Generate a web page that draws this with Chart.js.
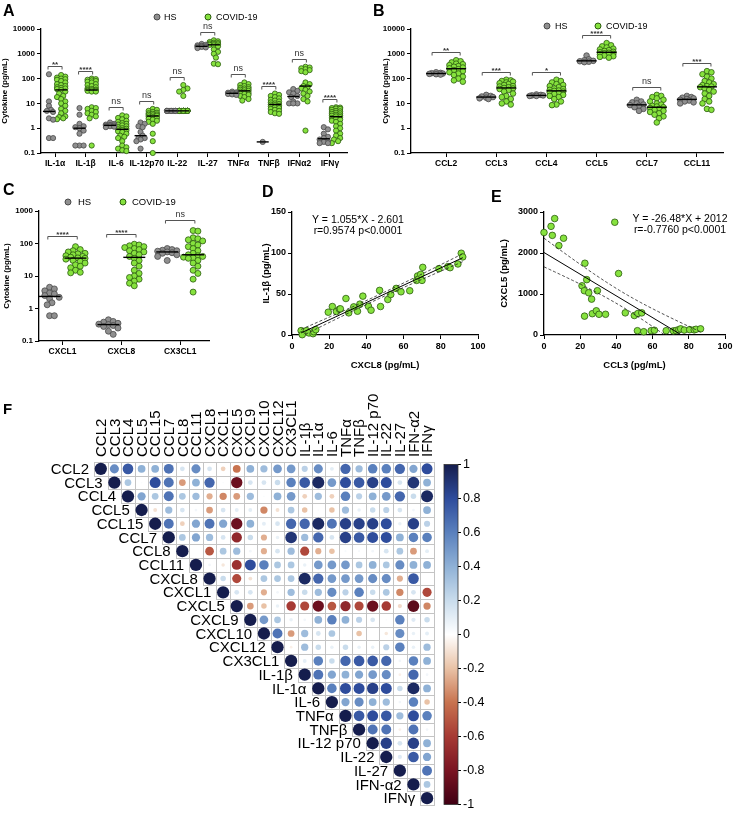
<!DOCTYPE html>
<html><head><meta charset="utf-8">
<script src="https://cdn.jsdelivr.net/npm/chart.js@4/dist/chart.umd.min.js"></script>
<style>
body{margin:0;background:#fff;width:739px;height:814px;position:relative;overflow:hidden;font-family:'Liberation Sans',Arial,sans-serif;color:#000}
canvas{position:absolute}
.t{position:absolute;white-space:nowrap;transform:translateY(-50%);line-height:1}
.dot{position:absolute;width:5px;height:5px;border-radius:50%;transform:translate(-50%,-50%)}
</style></head><body>
<script>
// ---------------- DATA ----------------
// Panel A
const catsA = ['IL-1α','IL-1β','IL-6','IL-12p70','IL-22','IL-27','TNFα','TNFβ','IFNα2','IFNγ'];
const hsA = [
 [150,12,8,5.5,5,4.5,2.5,2.2,0.4,0.4],
 [6.5,3.5,1.5,1.2,1.1,1.0,0.8,0.6,0.2,0.2,0.2],
 [1.7,1.5,1.4,1.35,1.3,1.25,1.2,1.15,1.1],
 [1.7,1.5,1.2,1.1,0.7,0.5,0.4,0.4,0.35,0.3,0.15],
 [5,5,5,5,5,5,5,5,5,5],
 [2500,2300,2200,2100,2000,1950,1900,1800,1700],
 [30,28,27,26,25,24,23,22],
 [0.28],
 [38,32,28,25,20,18,12,10,10,10],
 [1.1,0.9,0.6,0.45,0.4,0.35,0.3,0.28,0.25,0.25]
];
const covA = [
 [140,120,110,100,95,90,80,70,60,55,50,45,42,40,38,35,30,25,20,18,15,12,10,8,6,5,4,3,2.8,2.5,2.3],
 [100,95,90,85,80,75,70,60,55,50,45,40,38,36,35,34,33,32,30,30,7,6.5,6,5,4.5,4,3.5,3,2.5,0.2],
 [3.3,3,2.6,2.3,2,1.8,1.6,1.5,1.4,1.3,1.2,1.1,1.0,0.95,0.9,0.85,0.8,0.75,0.7,0.6,0.5,0.45,0.4,0.3,0.2,0.17,0.15,0.13,0.12],
 [6,5.5,5,4.5,4.2,4,3.8,3.6,3.5,3.3,3.2,3,2.8,2.6,2.4,2.2,2,1.8,1.5,0.6,0.3,0.1],
 [55,40,35,30,20,5,5,5,5,5,5,5,5,5,5,5,5,5,5,5,5,5,5,5,5],
 [3500,3200,3000,2800,2700,2600,2500,2400,2300,2200,2000,1500,1200,1000,700,400,380],
 [70,60,55,50,45,42,40,38,36,34,32,30,28,26,25,24,22,20,18,15,13],
 [25,22,20,18,16,14,13,12,11,10,9.5,9,8.5,8,7.5,7,6.5,6,5.5,5,4.5,4,3.8],
 [300,280,260,240,220,200,180,70,60,50,45,40,35,30,25,20,15,12,0.8],
 [7,6.8,6.5,6.2,6,5.5,5,4.8,4.5,4.2,4,3.8,3.5,3.3,3.2,3,2.8,2.6,2.4,2.2,2,1.8,1.5,1.2,1,0.8,0.6,0.5,0.4,0.35,0.3,0.25]
];
const sigA = ['**','****','ns','ns','ns','ns','ns','****','ns','****'];
const ticksA = [0.1,1,10,100,1000,10000];

// Panel B
const catsB = ['CCL2','CCL3','CCL4','CCL5','CCL7','CCL11'];
const hsB = [
 [180,170,165,160,155,150,145],
 [22,20,19,18,17,16,15],
 [23,22,21,21,20,20],
 [850,600,550,520,500,480,460],
 [14,12,11,10,9,8.5,8,7,6,5],
 [20,18,17,16,15,14,13,12,11,10]
];
const covB = [
 [550,500,450,400,380,350,320,300,280,260,240,220,200,180,160,140,120,100,85,75],
 [90,85,80,75,70,65,60,55,50,48,45,42,40,38,35,30,25,20,18,15,12,10,9],
 [90,80,70,60,55,50,45,40,38,35,33,32,30,28,26,24,22,20,18,15,12,9,8.5],
 [2700,2200,2000,1800,1600,1500,1400,1300,1200,1150,1100,1050,1000,950,900,850,800,750,700],
 [22,20,18,16,14,12,10,9,8,7.5,7,6.5,6,5.5,5,4.5,4,3.5,3,2.5,1.7],
 [200,180,150,120,100,80,70,60,55,50,48,45,40,35,30,25,20,15,12,10,6,5.5]
];
const sigB = ['**','***','*','****','ns','***'];

// Panel C
const catsC = ['CXCL1','CXCL8','CX3CL1'];
const hsC = [
 [4.5,4,3.5,3,2.8,2.5,2.2,2,1.5,1.3,0.6,0.6],
 [0.45,0.4,0.38,0.35,0.33,0.32,0.3,0.28,0.25,0.2,0.16],
 [70,65,62,60,58,55,52,50,45,40,30]
];
const covC = [
 [80,65,60,55,50,48,45,42,40,38,36,35,33,30,28,25,22,20,18,15,13,12.5],
 [95,90,85,80,75,70,65,60,55,50,45,40,35,30,25,20,15,12,10,9,8,7,6,5],
 [250,240,150,140,130,120,100,90,80,70,60,50,45,42,40,38,36,35,30,25,20,15,12,8,3.2]
];
const sigC = ['****','****','ns'];
const ticksC = [0.1,1,10,100,1000];

// Panel D
const dCXCL8 = [4.9,5.5,7.8,9.1,11.3,11.7,12.8,19.5,21.7,23.9,25.5,26,29,30.5,33.2,35.2,36.5,38.1,41.1,42.5,47.1,47.6,51.5,53.1,56,58.6,63.3,67,67.5,69.2,69.9,70.3,79,83.8,85,89.2,91,91.8];
const dIL1b  = [5.3,0.4,5.3,2.5,1.6,4,6.5,27.8,34.7,28.6,31.5,31.9,44.5,27,34.3,29,37.6,47.4,35.1,30.2,54.4,34.7,43.3,49.4,56.8,52.7,54,66.6,72,74,66.6,82.5,80.9,83.4,82.1,86.6,99.7,95.2];
const dFit = [1.055, -2.601];

// Panel E
const eCCL3  = [0,3.9,4.6,5.9,8.2,10.8,22.6,23.6,21,22.3,24.7,29.5,26.3,22.4,26.7,28.9,30.4,34,39.1,41.2,44.9,49.9,51.9,54,51.6,55.1,59.2,61,67.5,71.5,73,74.5,75.5,77.5,80.5,83,84,86.5];
const eCXCL5 = [2500,2650,2430,2840,2180,2360,1750,1350,1200,1080,1030,1080,875,460,520,590,505,505,2750,1500,540,475,525,540,105,80,105,115,105,100,110,130,150,120,130,125,140,150];
const eFit = [-26.48, 2012];

// Panel F (upper triangle rows, starting at the diagonal)
const varsF = ['CCL2','CCL3','CCL4','CCL5','CCL15','CCL7','CCL8','CCL11','CXCL8','CXCL1','CXCL5','CXCL9','CXCL10','CXCL12','CX3CL1','IL-1β','IL-1α','IL-6','TNFα','TNFβ','IL-12 p70','IL-22','IL-27','IFN-α2','IFNγ'];
const corrRows = [
 [1,.55,.75,.4,.4,.65,.15,.55,.15,-.15,-.4,.4,.35,.5,.5,.25,.55,.1,.7,.35,.6,.6,.7,.45,.8],
 [1,.3,.02,.8,.65,-.3,.4,.7,.02,-.85,.15,.15,.2,.6,.75,.95,.5,.8,.75,.85,.8,.15,.9,.4],
 [1,.45,.3,.65,.3,.35,-.25,-.35,-.3,.35,.02,.4,.5,-.15,.35,-.15,.6,.25,.4,.5,.7,.2,.95],
 [1,-.1,.35,.15,.05,-.3,.15,.1,.1,-.35,-.1,.3,-.2,.02,-.2,.35,.08,.2,.25,.15,.05,.4],
 [1,.65,-.15,.45,.65,.45,-.85,.4,.1,.15,.7,.7,.95,.65,.85,.85,.85,.8,.08,.85,.25],
 [1,.3,.45,.35,.15,-.7,.2,-.25,.08,.9,.35,.7,.15,.85,.75,.8,.8,.4,.6,.6],
 [1,0,-.5,.3,.35,.05,-.25,.15,.35,-.55,-.25,-.2,.03,.03,.05,.15,.3,-.3,.1],
 [1,.05,-.08,-.65,.8,.6,.3,.3,.08,.5,.5,.5,.3,.4,.3,.55,.4,.4],
 [1,.2,-.55,-.1,.3,.3,.3,.95,.7,.5,.5,.5,.55,.55,-.25,.75,0],
 [1,.15,.15,-.25,.05,.35,.2,.35,.55,.25,.6,.2,.3,-.35,.15,-.55],
 [1,-.3,-.2,.08,-.6,-.55,-.85,-.5,-.7,-.55,-.85,-.6,-.12,-.9,-.35],
 [1,.5,.3,.08,.05,.4,.6,.4,.25,.15,.02,.6,.12,.2],
 [1,.65,-.3,.35,.15,.3,0,-.2,0,-.08,.55,.08,.1],
 [1,-.05,.35,.2,.08,.2,.08,.08,.25,.6,.08,.35],
 [1,.1,.6,.2,.7,.75,.75,.7,.05,.6,.4],
 [1,.65,.45,.4,.45,.5,.55,-.05,.7,.05],
 [1,.6,.8,.8,.85,.8,.2,.95,.4],
 [1,.45,.55,.4,.35,.05,.6,-.2],
 [1,.75,.8,.75,.35,.8,.6],
 [1,.65,.65,-.05,.65,.05],
 [1,.85,.15,.85,.4],
 [1,.12,.75,.45],
 [1,0,.65],
 [1,.3],
 [1]
];

// ---------------- STYLE / HELPERS ----------------
const FONT = "'Liberation Sans', Arial, sans-serif";
Chart.defaults.font.family = FONT;
Chart.defaults.color = '#000';
const HS_FILL='#8f8f8f', HS_EDGE='#4a4a4a', CV_FILL='#86e23e', CV_EDGE='#2c5a10';

function mk(left, top, w, h){
  const c=document.createElement('canvas'); c.width=w; c.height=h;
  c.style.left=left+'px'; c.style.top=top+'px'; c.style.width=w+'px'; c.style.height=h+'px';
  document.body.appendChild(c); return c.getContext('2d');
}
function txt(s, x, y, css){
  const d=document.createElement('div'); d.className='t'; d.textContent=s;
  d.style.left=x+'px'; d.style.top=y+'px'; d.style.cssText+=css||''; document.body.appendChild(d); return d;
}
function dot(x,y,fill,edge){
  const d=document.createElement('div'); d.className='dot';
  d.style.left=x+'px'; d.style.top=y+'px'; d.style.background=fill; d.style.border='0.8px solid '+edge;
  document.body.appendChild(d);
}
function median(a){ const s=[...a].sort((p,q)=>p-q); const n=s.length; return n%2? s[(n-1)/2] : (s[n/2-1]+s[n/2])/2; }
// simple beeswarm layout (horizontal offsets only, in category units)
function swarm(vals, pxDec, pxUnit, r, halfW){
  const idx=vals.map((v,i)=>i).sort((a,b)=>vals[b]-vals[a]);
  const st=r*0.8; const cands=[0]; for(let s=1; s*st<=halfW; s++){cands.push(s*st,-s*st);}
  const minD=2*r*0.78, placed=[], off=new Array(vals.length).fill(0);
  for(const i of idx){
    const y=Math.log10(vals[i])*pxDec; let best=0, bestScore=Infinity;
    for(const c of cands){
      let sc=0; for(const q of placed){const d=Math.hypot(q.x-c,q.y-y); if(d<minD) sc+=minD-d;}
      if(sc===0){best=c;break;} if(sc<bestScore){bestScore=sc;best=c;}
    }
    placed.push({x:best,y}); off[i]=best/pxUnit;
  }
  return off;
}

function dotPlot(o){
  const ctx=mk(o.left,o.top,o.w,o.h);
  const hsData=[], cvData=[];
  o.hs.forEach((arr,i)=>{const off=swarm(arr,o.pxDec,o.pxUnit,o.r,o.halfW); arr.forEach((v,k)=>hsData.push({x:i-o.g+off[k],y:v}));});
  o.cov.forEach((arr,i)=>{const off=swarm(arr,o.pxDec,o.pxUnit,o.r,o.halfW); arr.forEach((v,k)=>cvData.push({x:i+o.g+off[k],y:v}));});
  const annot={id:'annot'+o.left+'_'+o.top, afterDatasetsDraw(chart){
    const c=chart.ctx, X=chart.scales.x, Y=chart.scales.y;
    c.save();
    o.hs.forEach((arr,i)=>{
      c.strokeStyle='#000'; c.lineWidth=1.4;
      [[arr,i-o.g],[o.cov[i],i+o.g]].forEach(([a,xc])=>{
        const px=X.getPixelForValue(xc), py=Y.getPixelForValue(median(a));
        c.beginPath(); c.moveTo(px-o.medHalf,py); c.lineTo(px+o.medHalf,py); c.stroke();
      });
      const top=Math.max(Math.max(...arr),Math.max(...o.cov[i]))*2.1;
      const by=Math.round(Y.getPixelForValue(top))+0.5;
      const x1=X.getPixelForValue(i-o.g-o.bx), x2=X.getPixelForValue(i+o.g+o.bx);
      c.strokeStyle='#555'; c.lineWidth=1;
      c.beginPath(); c.moveTo(x1,by+3); c.lineTo(x1,by); c.lineTo(x2,by); c.lineTo(x2,by+3); c.stroke();
      c.fillStyle='#333'; c.textAlign='center'; c.textBaseline='bottom';
      if(o.sig[i]==='ns'){ c.font='9px '+FONT; c.fillText('ns',(x1+x2)/2,by-1); }
      else { c.font='bold 8px '+FONT; c.fillText(o.sig[i],(x1+x2)/2,by+2); }
    });
    c.restore();
  }};
  new Chart(ctx,{type:'scatter',
    data:{datasets:[
      {label:'HS',data:hsData,backgroundColor:HS_FILL,borderColor:HS_EDGE,borderWidth:0.8,pointRadius:o.r,clip:false},
      {label:'COVID-19',data:cvData,backgroundColor:CV_FILL,borderColor:CV_EDGE,borderWidth:0.8,pointRadius:o.r,clip:false}]},
    options:{responsive:false,animation:false,devicePixelRatio:1,
      layout:{padding:{left:0,right:o.padR,top:o.padT,bottom:0}},
      plugins:{legend:{display:false},tooltip:{enabled:false}},
      scales:{
        x:{type:'linear',min:o.xmin,max:o.xmax,
           afterBuildTicks:s=>{s.ticks=o.cats.map((c,i)=>({value:i}));},
           ticks:{callback:(v,i)=>o.cats[i],autoSkip:false,maxRotation:0,font:{weight:'bold',size:8.5},color:'#000',padding:2},
           grid:{drawOnChartArea:false,drawTicks:true,tickLength:4,color:'#000',lineWidth:1},
           border:{display:true,color:'#000',width:1.3},
           afterFit:s=>{s.height=o.xh;}},
        y:{type:'logarithmic',min:o.ticks[0],max:o.ticks[o.ticks.length-1],
           afterBuildTicks:s=>{s.ticks=o.ticks.map(v=>({value:v}));},
           ticks:{callback:v=>String(v),font:{weight:'bold',size:8},color:'#000',padding:2},
           grid:{drawOnChartArea:false,drawTicks:true,tickLength:4,color:'#000',lineWidth:1},
           border:{display:true,color:'#000',width:1.3},
           title:{display:true,text:'Cytokine (pg/mL)',font:{weight:'bold',size:8},padding:{top:o.titlePad,bottom:0}},
           afterFit:s=>{s.width=o.yw;}}
      }},
    plugins:[annot]});
}

function band(xs,ys,fit,sign){
  const N=xs.length, xbar=xs.reduce((a,b)=>a+b,0)/N;
  let Sxx=0, SSE=0; xs.forEach((x,i)=>{Sxx+=(x-xbar)**2; SSE+=(ys[i]-(fit[0]*x+fit[1]))**2;});
  const s=Math.sqrt(SSE/(N-2)), t=2.02, lo=Math.min(...xs), hi=Math.max(...xs), pts=[];
  for(let k=0;k<=60;k++){const x=lo+(hi-lo)*k/60; pts.push({x,y:fit[0]*x+fit[1]+sign*t*s*Math.sqrt(1/N+(x-xbar)**2/Sxx)});}
  return pts;
}
function regPlot(o){
  const ctx=mk(o.left,o.top,o.w,o.h);
  const lo=Math.min(...o.xs), hi=Math.max(...o.xs);
  const pts=o.xs.map((x,i)=>({x,y:o.ys[i]}));
  const lineStyle={showLine:true,pointRadius:0,borderColor:'#222',borderWidth:0.8,fill:false};
  new Chart(ctx,{type:'scatter',
    data:{datasets:[
      Object.assign({data:[{x:lo,y:o.fit[0]*lo+o.fit[1]},{x:hi,y:o.fit[0]*hi+o.fit[1]}]},lineStyle,{borderColor:'#000',borderWidth:1}),
      Object.assign({data:band(o.xs,o.ys,o.fit,1),borderDash:[3,2]},lineStyle),
      Object.assign({data:band(o.xs,o.ys,o.fit,-1),borderDash:[3,2]},lineStyle),
      {data:pts,backgroundColor:CV_FILL,borderColor:CV_EDGE,borderWidth:0.8,pointRadius:3.3,clip:false}]},
    options:{responsive:false,animation:false,devicePixelRatio:1,
      layout:{padding:{left:0,right:o.padR,top:o.padT,bottom:0}},
      plugins:{legend:{display:false},tooltip:{enabled:false}},
      scales:{
        x:{type:'linear',min:0,max:100,ticks:{stepSize:20,callback:v=>String(v),font:{weight:'bold',size:9},color:'#000',padding:2},
           grid:{drawOnChartArea:false,tickLength:4,color:'#000'},border:{color:'#000',width:1.3},
           title:{display:true,text:o.xt,font:{weight:'bold',size:9.5},padding:{top:0,bottom:4}},
           afterFit:s=>{s.height=o.xh;}},
        y:{type:'linear',min:0,max:o.ymax,ticks:{stepSize:o.ystep,callback:v=>String(v),font:{weight:'bold',size:9},color:'#000',padding:2},
           grid:{drawOnChartArea:false,tickLength:4,color:'#000'},border:{color:'#000',width:1.3},
           title:{display:true,text:o.yt,font:{weight:'bold',size:9.5},padding:{top:o.titlePad,bottom:0}},
           afterFit:s=>{s.width=o.yw;}}
      }}});
}

// ---------------- PANELS A-C ----------------
dotPlot({left:0,top:0,w:360,h:180,yw:41,xh:27,padT:29,padR:13,xmin:-0.46,xmax:9.56,ticks:ticksA,
  cats:catsA,hs:hsA,cov:covA,sig:sigA,pxUnit:30.6,pxDec:24.8,r:2.6,halfW:6,medHalf:6,g:0.2,bx:0.03,titlePad:0});
dotPlot({left:370,top:0,w:369,h:180,yw:41,xh:27,padT:29,padR:16,xmin:-0.7,xmax:5.52,ticks:ticksA,
  cats:catsB,hs:hsB,cov:covB,sig:sigB,pxUnit:50.3,pxDec:24.8,r:2.8,halfW:8,medHalf:10,g:0.2,bx:0.08,titlePad:11});
dotPlot({left:0,top:170,w:250,h:195,yw:39,xh:24,padT:41,padR:41,xmin:-0.4,xmax:2.49,ticks:ticksC,
  cats:catsC,hs:hsC,cov:covC,sig:sigC,pxUnit:59,pxDec:32.5,r:3,halfW:10,medHalf:11,g:0.22,bx:0.03,titlePad:2});

// ---------------- PANELS D, E ----------------
regPlot({left:250,top:170,w:240,h:205,yw:42,xh:40,padT:42,padR:12,xs:dCXCL8,ys:dIL1b,fit:dFit,
  ymax:150,ystep:50,xt:'CXCL8 (pg/mL)',yt:'IL-1β (pg/mL)',titlePad:11});
regPlot({left:490,top:170,w:249,h:205,yw:54,xh:40,padT:42,padR:14,xs:eCCL3,ys:eCXCL5,fit:eFit,
  ymax:3000,ystep:1000,xt:'CCL3 (pg/mL)',yt:'CXCL5 (pg/mL)',titlePad:9});

// ---------------- PANEL F ----------------
const CSTOPS=[[-1,[64,0,19]],[-0.8,[122,21,35]],[-0.6,[166,58,52]],[-0.4,[200,115,79]],[-0.2,[233,194,166]],[0,[255,255,255]],
  [0.2,[201,220,236]],[0.4,[143,177,214]],[0.6,[90,128,189]],[0.8,[46,76,156]],[1,[21,29,77]]];
function corrColor(v){
  for(let k=0;k<CSTOPS.length-1;k++){const [a,ca]=CSTOPS[k],[b,cb]=CSTOPS[k+1];
    if(v>=a&&v<=b){const t=(v-a)/(b-a); const c=ca.map((x,i)=>Math.round(x+(cb[i]-x)*t)); return `rgb(${c[0]},${c[1]},${c[2]})`;}}
  return 'rgb(21,29,77)';
}
const bubbles=[];
corrRows.forEach((row,i)=>row.forEach((v,k)=>bubbles.push({x:i+k,y:i,r:6.15*Math.sqrt(Math.abs(v)),v})));
const corrPlugin={id:'corrgrid',
  beforeDatasetsDraw(chart){
    const c=chart.ctx,X=chart.scales.x,Y=chart.scales.y; c.save(); c.strokeStyle='#c4c4c4'; c.lineWidth=1;
    for(let i=0;i<varsF.length;i++) for(let j=i;j<varsF.length;j++){
      const x0=Math.round(X.getPixelForValue(j-0.5)),x1=Math.round(X.getPixelForValue(j+0.5));
      const y0=Math.round(Y.getPixelForValue(i-0.5)),y1=Math.round(Y.getPixelForValue(i+0.5));
      c.strokeRect(x0+0.5,y0+0.5,x1-x0,y1-y0);
    }
    c.restore();
  },
  afterDraw(chart){
    const c=chart.ctx,X=chart.scales.x,Y=chart.scales.y; c.save(); c.fillStyle='#000'; c.font='15px '+FONT;
    varsF.forEach((lab,i)=>{
      c.textAlign='right'; c.textBaseline='middle';
      c.fillText(lab,X.getPixelForValue(i-0.5)-5,Y.getPixelForValue(i)+1);
      c.save(); c.translate(X.getPixelForValue(i)+1,Y.getPixelForValue(-0.5)-5); c.rotate(-Math.PI/2);
      c.textAlign='left'; c.fillText(lab,0,0); c.restore();
    });
    c.restore();
  }};
new Chart(mk(0,360,440,454),{type:'bubble',
  data:{datasets:[{data:bubbles,backgroundColor:ctx=>corrColor(ctx.raw?ctx.raw.v:0),borderWidth:0,clip:false}]},
  options:{responsive:false,animation:false,devicePixelRatio:1,
    layout:{padding:{left:94,top:102,right:3,bottom:9}},
    plugins:{legend:{display:false},tooltip:{enabled:false}},
    scales:{x:{type:'linear',min:-0.5,max:24.5,display:false},y:{type:'linear',min:-0.5,max:24.5,reverse:true,display:false}}},
  plugins:[corrPlugin]});

// colour bar
const cbPlugin={id:'cbar',beforeDatasetsDraw(chart){
  const c=chart.ctx,a=chart.chartArea; const g=c.createLinearGradient(0,a.bottom,0,a.top);
  CSTOPS.forEach(([v,col])=>g.addColorStop((v+1)/2,`rgb(${col[0]},${col[1]},${col[2]})`));
  c.save(); c.fillStyle=g; c.fillRect(a.left,a.top,a.right-a.left,a.bottom-a.top);
  c.strokeStyle='#333'; c.lineWidth=0.8; c.strokeRect(a.left,a.top,a.right-a.left,a.bottom-a.top); c.restore();
}};
new Chart(mk(440,455,60,359),{type:'scatter',data:{datasets:[{data:[]}]},
  options:{responsive:false,animation:false,devicePixelRatio:1,
    layout:{padding:{left:4,top:9,bottom:7,right:0}},
    plugins:{legend:{display:false},tooltip:{enabled:false}},
    scales:{x:{display:false,min:0,max:1},
      y:{position:'right',min:-1,max:1,ticks:{stepSize:0.2,callback:v=>String(Math.round(v*10)/10),font:{size:12.5},color:'#000',padding:2},
         grid:{drawOnChartArea:false,tickLength:3,color:'#000'},border:{display:false},
         afterFit:s=>{s.width=42;}}}},
  plugins:[cbPlugin]});

// ---------------- TEXT: panel letters, legends, equations ----------------
const L='font-weight:bold;font-size:16px;';
txt('A',3,11,L); txt('B',373,11,L); txt('C',3,190,L); txt('D',262,192,L); txt('E',491,197,L); txt('F',3,408,'font-weight:bold;font-size:15px;');
const LG='font-size:9px;';
dot(157,17,HS_FILL,HS_EDGE); txt('HS',164,17,LG); dot(208,17,CV_FILL,CV_EDGE); txt('COVID-19',216,17,LG);
dot(547,26,HS_FILL,HS_EDGE); txt('HS',555,26,LG); dot(598,26,CV_FILL,CV_EDGE); txt('COVID-19',606,26,LG);
dot(68,202,HS_FILL,HS_EDGE); txt('HS',78,202,'font-size:9.5px;'); dot(123,202,CV_FILL,CV_EDGE); txt('COVID-19',132,202,'font-size:9.5px;');
const EQ='font-size:10.5px;text-align:center;width:120px;';
txt('Y = 1.055*X - 2.601',298,219,EQ); txt('r=0.9574 p<0.0001',298,230,EQ);
txt('Y = -26.48*X + 2012',620,218,EQ); txt('r=-0.7760 p<0.0001',620,229,EQ);
</script>
</body></html>
